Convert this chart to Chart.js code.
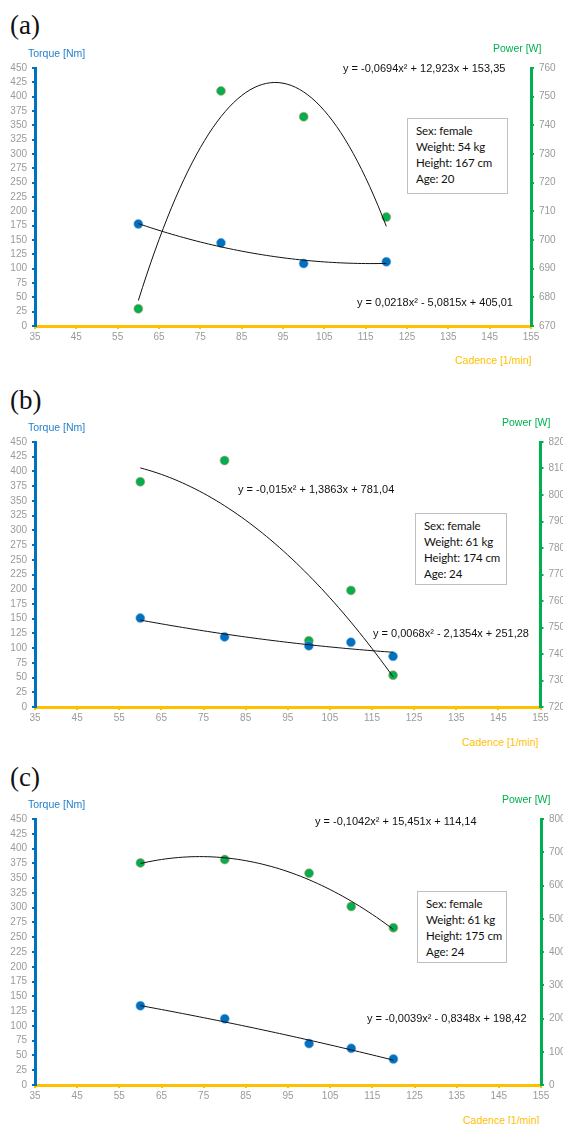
<!DOCTYPE html>
<html>
<head>
<meta charset="utf-8">
<script src="https://cdn.jsdelivr.net/npm/chart.js@4"></script>
<style>
  body { margin: 0; background: #fff; width: 563px; height: 1124px; position: relative; overflow: hidden; }
  canvas { position: absolute; left: 0; }
  .t { position: absolute; white-space: nowrap; }
  .panel { font-family: "Liberation Serif", serif; font-size: 27px; color: #111; }
  .ttl { font-family: "Liberation Sans", Arial, sans-serif; font-size: 10.5px; }
  .eq { font-family: "Liberation Sans", Arial, sans-serif; font-size: 11px; color: #111; }
  .box { position: absolute; border: 1px solid #c0c0c0; background: #fff; white-space: nowrap;
         font-family: Lato, sans-serif; font-size: 11.5px; letter-spacing: -0.1px; line-height: 16px; color: #111;
         padding: 4px 0 0 8px; box-sizing: border-box; }
</style>
</head>
<body>
<canvas id="ca" width="563" height="291" style="top:57px"></canvas>
<canvas id="cb" width="563" height="298" style="top:431px"></canvas>
<canvas id="cc" width="563" height="299" style="top:808px"></canvas>
<script>
// cadence on x, torque on left axis, power on right axis
const cadenceTicks = [35, 45, 55, 65, 75, 85, 95, 105, 115, 125, 135, 145, 155];

const cadenceA = [60, 80, 100, 120];
const torqueA = [178, 145, 109, 112];
const powerA = [676, 752, 743, 708];
const torqueFitA = [0.0218, -5.0815, 405.01]; // a, b, c of the trendline
const powerFitA = [-0.0694, 12.923, 153.35];

const cadenceB = [60, 80, 100, 110, 120];
const torqueB = [151, 119, 104, 110, 86];
const powerB = [805, 813, 745, 764, 732];
const torqueFitB = [0.0068, -2.1354, 251.28];
const powerFitB = [-0.015, 1.3863, 781.04];

const cadenceC = [60, 80, 100, 110, 120];
const torqueC = [134, 112, 70, 62, 44];
const powerC = [668, 678, 637, 537, 473];
const torqueFitC = [-0.0039, -0.8348, 198.42];
const powerFitC = [-0.1042, 15.451, 114.14];

const BLUE = '#0070C0';
const GREEN = '#00B050';
const YELLOW = '#FFC000';
const GREY = '#9a9a9a';

function trend(coef, x0, x1) {
  const pts = [];
  for (let x = x0; x <= x1; x += 1) {
    pts.push({ x: x, y: coef[0] * x * x + coef[1] * x + coef[2] });
  }
  return pts;
}

function pts(xs, ys) {
  return xs.map((x, i) => ({ x: x, y: ys[i] }));
}

function makeChart(id, cad, tq, pw, tqFit, pwFit, pwMin, pwMax, pwStep, rightW) {
  const tickFont = { family: 'Liberation Sans', size: 10 };
  new Chart(document.getElementById(id), {
    type: 'scatter',
    data: {
      datasets: [
        { data: trend(tqFit, cad[0], cad[cad.length - 1]), type: 'line', yAxisID: 'y',
          borderColor: '#111', borderWidth: 1, pointRadius: 0, tension: 0, order: 0 },
        { data: trend(pwFit, cad[0], cad[cad.length - 1]), type: 'line', yAxisID: 'y2',
          borderColor: '#111', borderWidth: 1, pointRadius: 0, tension: 0, order: 0 },
        { data: pts(cad, tq), yAxisID: 'y', pointRadius: 4.5, pointBackgroundColor: BLUE,
          pointBorderColor: 'rgba(120,170,220,0.6)', pointBorderWidth: 1, order: 1 },
        { data: pts(cad, pw), yAxisID: 'y2', pointRadius: 4.5, pointBackgroundColor: GREEN,
          pointBorderColor: 'rgba(240,150,120,0.6)', pointBorderWidth: 1, order: 1 }
      ]
    },
    options: {
      responsive: false,
      animation: false,
      layout: { padding: { top: 10, left: 0, right: 0, bottom: 0 } },
      plugins: { legend: { display: false }, tooltip: { enabled: false } },
      scales: {
        x: {
          type: 'linear', min: 35, max: 155,
          afterBuildTicks: s => { s.ticks = cadenceTicks.map(v => ({ value: v })); },
          afterFit: s => { s.height = 22; },
          border: { color: YELLOW, width: 3 },
          grid: { drawOnChartArea: false, drawTicks: true, tickLength: 3, color: YELLOW, lineWidth: 2 },
          ticks: { color: GREY, font: tickFont, padding: 2, maxRotation: 0, autoSkip: false }
        },
        y: {
          position: 'left', min: 0, max: 450,
          afterFit: s => { s.width = 35; },
          border: { color: BLUE, width: 3 },
          grid: { drawOnChartArea: false, drawTicks: true, tickLength: 3, color: BLUE, lineWidth: 2 },
          ticks: { stepSize: 25, color: GREY, font: tickFont, padding: 5, autoSkip: false }
        },
        y2: {
          position: 'right', min: pwMin, max: pwMax,
          afterFit: s => { s.width = rightW; },
          border: { color: GREEN, width: 3 },
          grid: { drawOnChartArea: false, drawTicks: true, tickLength: 3, color: GREEN, lineWidth: 2 },
          ticks: { stepSize: pwStep, color: GREY, font: tickFont, padding: 5, autoSkip: false }
        }
      }
    }
  });
}

makeChart('ca', cadenceA, torqueA, powerA, torqueFitA, powerFitA, 670, 760, 10, 32);
makeChart('cb', cadenceB, torqueB, powerB, torqueFitB, powerFitB, 720, 820, 10, 22.5);
makeChart('cc', cadenceC, torqueC, powerC, torqueFitC, powerFitC, 0, 800, 100, 22);

// text overlays
function txt(cls, s, x, yc, color, h) {
  const d = document.createElement('div');
  d.className = 't ' + cls;
  d.textContent = s;
  const lh = h || 14;
  d.style.left = x + 'px';
  d.style.top = (yc - lh / 2) + 'px';
  d.style.lineHeight = lh + 'px';
  if (color) d.style.color = color;
  document.body.appendChild(d);
}
function box(lines, x, y, w, h) {
  const d = document.createElement('div');
  d.className = 'box';
  d.style.left = x + 'px'; d.style.top = y + 'px';
  d.style.width = w + 'px'; d.style.height = h + 'px';
  d.innerHTML = lines.map(l => '<div>' + l + '</div>').join('');
  document.body.appendChild(d);
}

// (a)
txt('panel', '(a)', 10, 25, null, 30);
txt('ttl', 'Torque [Nm]', 28, 53, '#1f7fcf');
txt('ttl', 'Power [W]', 493, 48, GREEN);
txt('eq', 'y = -0,0694x² + 12,923x + 153,35', 343, 68);
txt('eq', 'y = 0,0218x² - 5,0815x + 405,01', 357, 302);
txt('ttl', 'Cadence [1/min]', 455, 360, YELLOW);
box(['Sex: female', 'Weight: 54 kg', 'Height: 167 cm', 'Age: 20'], 407, 118, 101, 76);

// (b)
txt('panel', '(b)', 10, 400, null, 30);
txt('ttl', 'Torque [Nm]', 28, 427, '#1f7fcf');
txt('ttl', 'Power [W]', 502, 422, GREEN);
txt('eq', 'y = -0,015x² + 1,3863x + 781,04', 238, 489);
txt('eq', 'y = 0,0068x² - 2,1354x + 251,28', 373, 633);
txt('ttl', 'Cadence [1/min]', 462, 742, YELLOW);
box(['Sex: female', 'Weight: 61 kg', 'Height: 174 cm', 'Age: 24'], 415, 513, 92, 72);

// (c)
txt('panel', '(c)', 10, 777, null, 30);
txt('ttl', 'Torque [Nm]', 28, 804, '#1f7fcf');
txt('ttl', 'Power [W]', 502, 799, GREEN);
txt('eq', 'y = -0,1042x² + 15,451x + 114,14', 315, 821);
txt('eq', 'y = -0,0039x² - 0,8348x + 198,42', 367, 1018);
txt('ttl', 'Cadence [1/min]', 463, 1120, YELLOW);
box(['Sex: female', 'Weight: 61 kg', 'Height: 175 cm', 'Age: 24'], 417, 891, 90, 72);
</script>
</body>
</html>
